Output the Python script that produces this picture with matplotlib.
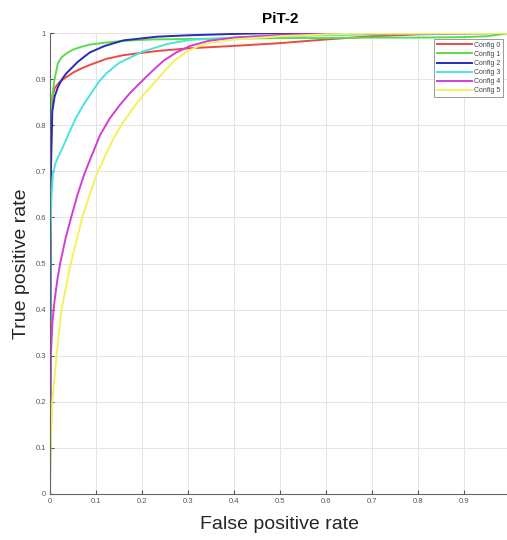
import matplotlib
matplotlib.use("Agg")
import matplotlib.pyplot as plt

plt.rcParams["font.family"] = ["Liberation Sans", "DejaVu Sans"]

LABELS = ["Config 0", "Config 1", "Config 2", "Config 3", "Config 4", "Config 5"]
COLORS = ["#ec4a44", "#5cdc4c", "#2a2ab8", "#48e4e0", "#d43cd4", "#f2f25a"]

FPR0 = [0, 0.001, 0.003, 0.006, 0.01, 0.02, 0.032, 0.05, 0.068, 0.087, 0.123, 0.16,
        0.233, 0.305, 0.4, 0.5, 0.6, 0.7, 0.8, 0.9, 1.0]
TPR0 = [0, 0.6, 0.82, 0.865, 0.88, 0.893, 0.902, 0.914, 0.923, 0.931, 0.944, 0.952,
        0.961, 0.967, 0.972, 0.978, 0.986, 0.993, 0.997, 0.999, 1.0]

FPR1 = [0, 0.001, 0.003, 0.0065, 0.01, 0.017, 0.025, 0.036, 0.05, 0.068, 0.087, 0.119,
        0.16, 0.22, 0.3, 0.4, 0.5, 0.6, 0.7, 0.8, 0.9, 0.95, 1.0]
TPR1 = [0, 0.78, 0.85, 0.876, 0.9, 0.934, 0.947, 0.956, 0.964, 0.97, 0.975, 0.979,
        0.983, 0.986, 0.987, 0.988, 0.989, 0.989, 0.99, 0.99, 0.991, 0.993, 1.0]

FPR2 = [0, 0.002, 0.005, 0.01, 0.017, 0.025, 0.035, 0.046, 0.06, 0.075, 0.087, 0.119,
        0.16, 0.233, 0.3, 0.4, 0.5, 0.6, 1.0]
TPR2 = [0, 0.7, 0.83, 0.862, 0.882, 0.898, 0.912, 0.923, 0.937, 0.949, 0.958, 0.972,
        0.984, 0.992, 0.995, 0.998, 1.0, 1.0, 1.0]

FPR3 = [0, 0.001, 0.003, 0.006, 0.011, 0.018, 0.025, 0.04, 0.054, 0.07, 0.09, 0.107,
        0.123, 0.15, 0.2, 0.254, 0.305, 0.4, 0.5, 0.6, 0.7, 0.8, 1.0]
TPR3 = [0, 0.55, 0.64, 0.69, 0.715, 0.732, 0.746, 0.78, 0.811, 0.84, 0.87, 0.895,
        0.913, 0.935, 0.959, 0.976, 0.985, 0.99, 0.993, 0.995, 0.997, 0.998, 1.0]

FPR4 = [0, 0.0005, 0.002, 0.005, 0.01, 0.016, 0.022, 0.034, 0.046, 0.06, 0.075, 0.087,
        0.109, 0.13, 0.152, 0.175, 0.2, 0.225, 0.247, 0.275, 0.305, 0.345, 0.4, 0.5,
        0.6, 0.7, 1.0]
TPR4 = [0, 0.15, 0.3, 0.37, 0.42, 0.465, 0.5, 0.555, 0.6, 0.65, 0.695, 0.725,
        0.779, 0.815, 0.844, 0.871, 0.896, 0.92, 0.94, 0.958, 0.972, 0.983, 0.99, 0.996,
        0.998, 0.999, 1.0]

FPR5 = [0, 0.001, 0.005, 0.014, 0.025, 0.035, 0.045, 0.058, 0.07, 0.085, 0.1, 0.123,
        0.14, 0.16, 0.18, 0.2, 0.225, 0.247, 0.27, 0.298, 0.32, 0.345, 0.4, 0.5,
        0.6, 0.7, 1.0]
TPR5 = [0, 0.1, 0.2, 0.3, 0.4, 0.45, 0.5, 0.55, 0.6, 0.645, 0.69, 0.74,
        0.775, 0.808, 0.836, 0.862, 0.89, 0.915, 0.94, 0.96, 0.97, 0.978, 0.986, 0.993,
        0.997, 0.999, 1.0]

CURVES = [(FPR0, TPR0), (FPR1, TPR1), (FPR2, TPR2), (FPR3, TPR3), (FPR4, TPR4), (FPR5, TPR5)]

XTICKS = [0, 0.1, 0.2, 0.3, 0.4, 0.5, 0.6, 0.7, 0.8, 0.9]
YTICKS = [0, 0.1, 0.2, 0.3, 0.4, 0.5, 0.6, 0.7, 0.8, 0.9, 1.0]


def fmt(v):
    return "0" if v == 0 else ("1" if v == 1 else f"{v:.1f}")


fig = plt.figure(figsize=(5.07, 5.4), dpi=100)
ax = fig.add_axes([50 / 507, 46 / 540, 460 / 507, 461 / 540])

for (fpr, tpr), color, label in zip(CURVES, COLORS, LABELS):
    ax.plot(fpr, tpr, color=color, lw=1.4, label=label, solid_joinstyle="round")

ax.set_xlim(0, 1)
ax.set_ylim(0, 1)
ax.set_xticks(XTICKS)
ax.set_xticklabels([fmt(v) for v in XTICKS])
ax.set_yticks(YTICKS)
ax.set_yticklabels([fmt(v) for v in YTICKS])
ax.tick_params(direction="in", length=3, labelsize=5.5, colors="#555555", pad=3)
ax.grid(True, color="#e4e4e4", lw=0.7)
ax.set_axisbelow(True)
for side in ("top", "right"):
    ax.spines[side].set_visible(False)
for side in ("left", "bottom"):
    ax.spines[side].set_color("#666666")
    ax.spines[side].set_linewidth(0.8)

ax.set_xlabel("False positive rate", fontsize=14, color="#262626", labelpad=8)
ax.set_ylabel("True positive rate", fontsize=14, color="#262626", labelpad=4)
ax.set_title("PiT-2", fontsize=11, fontweight="bold", pad=7)

leg = ax.legend(loc="upper right", bbox_to_anchor=(453 / 460, 0.987), fontsize=5,
                handlelength=5, handletextpad=0.3, borderpad=0.4, borderaxespad=0,
                labelspacing=0.3, fancybox=False, framealpha=1)
leg.get_frame().set_edgecolor("#999999")
leg.get_frame().set_linewidth(0.7)
for t in leg.get_texts():
    t.set_color("#444444")

fig.savefig("out.png", dpi=100)
